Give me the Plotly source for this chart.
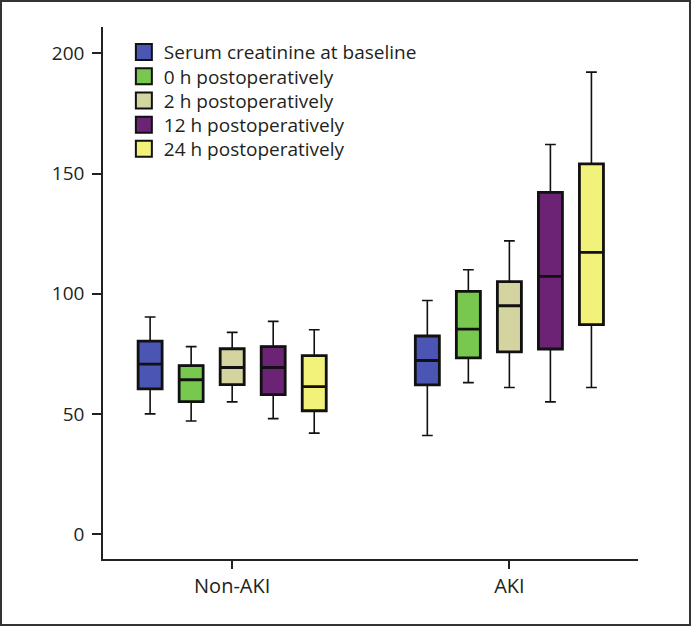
import plotly.graph_objects as go

categories = ["Non-AKI", "AKI"]
series_names = ["Serum creatinine at baseline", "0 h postoperatively", "2 h postoperatively",
                "12 h postoperatively", "24 h postoperatively"]
colors = ["#4b55b4", "#78c850", "#d3d4a0", "#6c2275", "#f2f27a"]

lower = [[50, 41], [47, 63], [55, 61], [48, 55], [42, 61]]
q1 = [[60.4, 62.1], [55.1, 73.3], [62.2, 75.8], [58, 77], [51.3, 87.1]]
median = [[70.7, 72.2], [64.2, 85.3], [69.3, 95], [69.3, 107.2], [61.3, 117.2]]
q3 = [[80.3, 82.4], [70.1, 101], [77.1, 105], [78, 142.2], [74.2, 154]]
upper = [[90.3, 97.2], [78, 110], [83.9, 122], [88.5, 162.1], [85, 192.2]]

y_ticks = [0, 50, 100, 150, 200]

FONT = "Open Sans, Noto Sans, sans-serif"
TXT = "#231f20"
FS = 19

W, H = 692, 627
ml, mr, mt, mb = 103, 54, 27, 68
pw, ph = W - ml - mr, H - mt - mb

fig = go.Figure()
legends = {}
for i, name in enumerate(series_names):
    lg = "legend" if i == 0 else f"legend{i + 1}"
    # thin whiskers
    fig.add_trace(go.Box(
        x=categories, q1=q1[i], median=median[i], q3=q3[i],
        lowerfence=lower[i], upperfence=upper[i],
        offsetgroup=str(i), fillcolor="rgba(0,0,0,0)",
        line=dict(color="#111111", width=1.6), whiskerwidth=0.45,
        showlegend=False, hoverinfo="skip", name=name))
    # thick box
    fig.add_trace(go.Box(
        x=categories, q1=q1[i], median=median[i], q3=q3[i],
        lowerfence=q1[i], upperfence=q3[i],
        offsetgroup=str(i), fillcolor=colors[i],
        line=dict(color="#111111", width=2.8), whiskerwidth=0,
        showlegend=False, name=name))
    # legend entry
    fig.add_trace(go.Scatter(
        x=[None], y=[None], mode="markers", name=name, legend=lg,
        marker=dict(symbol="square", size=16, color=colors[i],
                    line=dict(color="#111111", width=2)),
        showlegend=True))
    legends[lg] = dict(x=0.039, y=1 - (6.2 + i * 24.2) / ph, xanchor="left", yanchor="top",
                       bgcolor="rgba(0,0,0,0)", font=dict(size=FS, color=TXT),
                       itemsizing="trace")

fig.update_layout(
    width=W, height=H,
    margin=dict(l=ml, r=mr, t=mt, b=mb),
    paper_bgcolor="white", plot_bgcolor="white",
    boxmode="group", boxgap=0.26, boxgroupgap=0.415,
    font=dict(family=FONT, size=FS, color=TXT),
    xaxis=dict(type="category", range=[-0.466, 1.464], showline=True,
               linecolor="#222222", linewidth=1.5, ticks="outside", ticklen=8,
               tickwidth=1.5, tickcolor="#222222", showgrid=False, zeroline=False,
               tickfont=dict(size=20, color=TXT)),
    yaxis=dict(range=[-10.4, 211], tickvals=y_ticks, showline=True,
               linecolor="#222222", linewidth=1.5, ticks="outside", ticklen=9,
               tickwidth=1.5, tickcolor="#222222", showgrid=False, zeroline=False,
               ticklabelstandoff=4, tickfont=dict(size=FS, color=TXT)),
    shapes=[dict(type="rect", xref="paper", yref="paper",
                 x0=(1 - ml) / pw, x1=(W - 2 - ml) / pw,
                 y0=-(H - 2 - mt - ph) / ph, y1=1 + (mt - 1) / ph,
                 line=dict(color="#333333", width=2), fillcolor="rgba(0,0,0,0)")],
    **legends,
)

fig.write_html("out.html", config={"displayModeBar": False},
               post_script="document.body.style.margin='0';document.body.style.overflow='hidden';")
